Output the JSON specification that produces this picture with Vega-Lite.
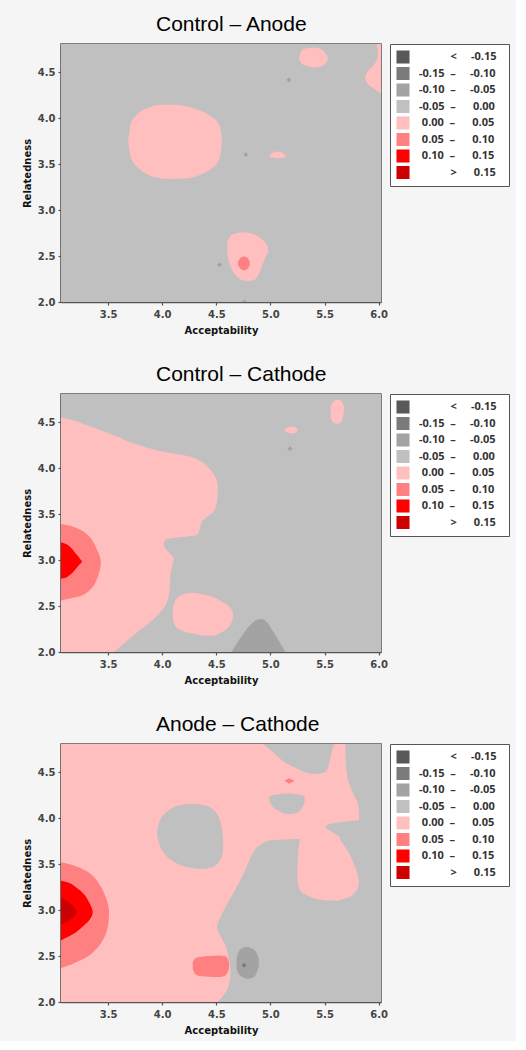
{
  "$schema": "https://vega.github.io/schema/vega-lite/v6.json",
  "background": "#f5f5f5",
  "padding": {"left": 21, "top": 12, "right": 5, "bottom": 5},
  "config": {
    "view": {"stroke": "#555555", "strokeWidth": 1.5},
    "axis": {"labelFont": "DejaVu Sans", "labelFontSize": 10, "labelFontWeight": "bold", "labelColor": "#444444", "titleFont": "DejaVu Sans", "titleFontSize": 10, "titleFontWeight": "bold", "titleColor": "#111111", "domainColor": "#555555", "domainWidth": 1.5, "tickColor": "#555555", "tickSize": 3, "tickWidth": 1.2, "grid": false, "labelPadding": 3, "titlePadding": 5},
    "axisX": {"labelPadding": 4, "titlePadding": 6},
    "title": {"font": "Liberation Sans", "fontSize": 21, "fontWeight": "normal", "color": "#000000", "anchor": "start", "frame": "group", "dx": 95, "offset": 9},
    "legend": {"orient": "right", "offset": 9, "strokeColor": "#555555", "fillColor": "#ffffff", "padding": 6, "symbolType": "square", "symbolSize": 170, "symbolStrokeWidth": 0, "labelFont": "Open Sans", "labelFontSize": 11, "labelFontWeight": "bold", "labelColor": "#333333", "rowPadding": 2.5, "labelOffset": 9, "labelLimit": 300}
  },
  "data": {"values": [
    {"p":1,"o":"r","k":"d","x":3,"x2":6.1,"y":1.9,"y2":4.9},
    {"p":1,"o":"v","z":1,"id":"1A","k":"e","x":3.686,"lo":3.757,"hi":3.757},
    {"p":1,"o":"v","z":1,"id":"1A","k":"e","x":3.710,"lo":3.576,"hi":3.938},
    {"p":1,"o":"v","z":1,"id":"1A","k":"e","x":3.772,"lo":3.467,"hi":4.047},
    {"p":1,"o":"v","z":1,"id":"1A","k":"e","x":3.865,"lo":3.388,"hi":4.112},
    {"p":1,"o":"v","z":1,"id":"1A","k":"e","x":3.989,"lo":3.348,"hi":4.149},
    {"p":1,"o":"v","z":1,"id":"1A","k":"e","x":4.113,"lo":3.341,"hi":4.149},
    {"p":1,"o":"v","z":1,"id":"1A","k":"e","x":4.236,"lo":3.348,"hi":4.127},
    {"p":1,"o":"v","z":1,"id":"1A","k":"e","x":4.360,"lo":3.390,"hi":4.080},
    {"p":1,"o":"v","z":1,"id":"1A","k":"e","x":4.453,"lo":3.450,"hi":4.020},
    {"p":1,"o":"v","z":1,"id":"1A","k":"e","x":4.515,"lo":3.530,"hi":3.950},
    {"p":1,"o":"v","z":1,"id":"1A","k":"e","x":4.540,"lo":3.620,"hi":3.880},
    {"p":1,"o":"v","z":1,"id":"1A","k":"e","x":4.550,"lo":3.720,"hi":3.800},
    {"p":1,"o":"v","z":1,"id":"1B","k":"e","x":5.267,"lo":4.645,"hi":4.663},
    {"p":1,"o":"v","z":1,"id":"1B","k":"e","x":5.288,"lo":4.598,"hi":4.736},
    {"p":1,"o":"v","z":1,"id":"1B","k":"e","x":5.335,"lo":4.572,"hi":4.764},
    {"p":1,"o":"v","z":1,"id":"1B","k":"e","x":5.397,"lo":4.554,"hi":4.772},
    {"p":1,"o":"v","z":1,"id":"1B","k":"e","x":5.459,"lo":4.562,"hi":4.761},
    {"p":1,"o":"v","z":1,"id":"1B","k":"e","x":5.505,"lo":4.591,"hi":4.717},
    {"p":1,"o":"v","z":1,"id":"1B","k":"e","x":5.530,"lo":4.634,"hi":4.670},
    {"p":1,"o":"v","z":1,"id":"1C","k":"e","x":4.994,"lo":3.583,"hi":3.601},
    {"p":1,"o":"v","z":1,"id":"1C","k":"e","x":5.025,"lo":3.569,"hi":3.627},
    {"p":1,"o":"v","z":1,"id":"1C","k":"e","x":5.072,"lo":3.565,"hi":3.638},
    {"p":1,"o":"v","z":1,"id":"1C","k":"e","x":5.118,"lo":3.572,"hi":3.620},
    {"p":1,"o":"v","z":1,"id":"1C","k":"e","x":5.140,"lo":3.576,"hi":3.594},
    {"p":1,"o":"v","z":1,"id":"1D","k":"e","x":4.601,"lo":2.525,"hi":2.652},
    {"p":1,"o":"v","z":1,"id":"1D","k":"e","x":4.623,"lo":2.417,"hi":2.707},
    {"p":1,"o":"v","z":1,"id":"1D","k":"e","x":4.670,"lo":2.308,"hi":2.743},
    {"p":1,"o":"v","z":1,"id":"1D","k":"e","x":4.731,"lo":2.243,"hi":2.757},
    {"p":1,"o":"v","z":1,"id":"1D","k":"e","x":4.793,"lo":2.228,"hi":2.754},
    {"p":1,"o":"v","z":1,"id":"1D","k":"e","x":4.855,"lo":2.243,"hi":2.736},
    {"p":1,"o":"v","z":1,"id":"1D","k":"e","x":4.902,"lo":2.326,"hi":2.699},
    {"p":1,"o":"v","z":1,"id":"1D","k":"e","x":4.948,"lo":2.471,"hi":2.652},
    {"p":1,"o":"v","z":1,"id":"1D","k":"e","x":4.979,"lo":2.543,"hi":2.598},
    {"p":1,"o":"h","z":1,"id":"1E","k":"e","y":4.272,"lo":6.02,"hi":6.1},
    {"p":1,"o":"h","z":1,"id":"1E","k":"e","y":4.301,"lo":5.985,"hi":6.1},
    {"p":1,"o":"h","z":1,"id":"1E","k":"e","y":4.373,"lo":5.901,"hi":6.1},
    {"p":1,"o":"h","z":1,"id":"1E","k":"e","y":4.446,"lo":5.876,"hi":6.1},
    {"p":1,"o":"h","z":1,"id":"1E","k":"e","y":4.518,"lo":5.907,"hi":6.1},
    {"p":1,"o":"h","z":1,"id":"1E","k":"e","y":4.591,"lo":5.963,"hi":6.1},
    {"p":1,"o":"h","z":1,"id":"1E","k":"e","y":4.699,"lo":5.994,"hi":6.1},
    {"p":1,"o":"h","z":1,"id":"1E","k":"e","y":4.808,"lo":5.985,"hi":6.1},
    {"p":1,"o":"h","z":1,"id":"1E","k":"e","y":4.85,"lo":5.985,"hi":6.1},
    {"p":1,"o":"v","z":2,"id":"1F","k":"f","x":4.700,"lo":2.399,"hi":2.435},
    {"p":1,"o":"v","z":2,"id":"1F","k":"f","x":4.725,"lo":2.362,"hi":2.482},
    {"p":1,"o":"v","z":2,"id":"1F","k":"f","x":4.756,"lo":2.344,"hi":2.496},
    {"p":1,"o":"v","z":2,"id":"1F","k":"f","x":4.787,"lo":2.362,"hi":2.482},
    {"p":1,"o":"v","z":2,"id":"1F","k":"f","x":4.809,"lo":2.391,"hi":2.442},
    {"p":1,"o":"v","z":2,"id":"1G","k":"c","x":4.755,"lo":3.605,"hi":3.605},
    {"p":1,"o":"v","z":2,"id":"1G","k":"c","x":4.766,"lo":3.585,"hi":3.628},
    {"p":1,"o":"v","z":2,"id":"1G","k":"c","x":4.778,"lo":3.585,"hi":3.628},
    {"p":1,"o":"v","z":2,"id":"1G","k":"c","x":4.790,"lo":3.605,"hi":3.605},
    {"p":1,"o":"pt","k":"c","x":5.171,"y":4.42},
    {"p":1,"o":"pt","k":"c","x":4.53,"y":2.406},
    {"p":1,"o":"pt","k":"c","x":4.76,"y":2.0},

    {"p":2,"o":"r","k":"d","x":3,"x2":6.1,"y":1.9,"y2":4.9},
    {"p":2,"o":"h","z":1,"id":"2A","k":"e","y":1.95,"lo":3.0,"hi":3.505},
    {"p":2,"o":"h","z":1,"id":"2A","k":"e","y":2.0,"lo":3.0,"hi":3.555},
    {"p":2,"o":"h","z":1,"id":"2A","k":"e","y":2.036,"lo":3.0,"hi":3.591},
    {"p":2,"o":"h","z":1,"id":"2A","k":"e","y":2.217,"lo":3.0,"hi":3.773},
    {"p":2,"o":"h","z":1,"id":"2A","k":"e","y":2.362,"lo":3.0,"hi":3.924},
    {"p":2,"o":"h","z":1,"id":"2A","k":"e","y":2.543,"lo":3.0,"hi":4.045},
    {"p":2,"o":"h","z":1,"id":"2A","k":"e","y":2.688,"lo":3.0,"hi":4.070},
    {"p":2,"o":"h","z":1,"id":"2A","k":"e","y":2.833,"lo":3.0,"hi":4.076},
    {"p":2,"o":"h","z":1,"id":"2A","k":"e","y":2.942,"lo":3.0,"hi":4.091},
    {"p":2,"o":"h","z":1,"id":"2A","k":"e","y":3.014,"lo":3.0,"hi":4.106},
    {"p":2,"o":"h","z":1,"id":"2A","k":"e","y":3.087,"lo":3.0,"hi":4.061},
    {"p":2,"o":"h","z":1,"id":"2A","k":"e","y":3.159,"lo":3.0,"hi":4.015},
    {"p":2,"o":"h","z":1,"id":"2A","k":"e","y":3.225,"lo":3.0,"hi":4.030},
    {"p":2,"o":"h","z":1,"id":"2A","k":"e","y":3.246,"lo":3.0,"hi":4.136},
    {"p":2,"o":"h","z":1,"id":"2A","k":"e","y":3.275,"lo":3.0,"hi":4.318},
    {"p":2,"o":"h","z":1,"id":"2A","k":"e","y":3.341,"lo":3.0,"hi":4.348},
    {"p":2,"o":"h","z":1,"id":"2A","k":"e","y":3.413,"lo":3.0,"hi":4.364},
    {"p":2,"o":"h","z":1,"id":"2A","k":"e","y":3.467,"lo":3.0,"hi":4.409},
    {"p":2,"o":"h","z":1,"id":"2A","k":"e","y":3.522,"lo":3.0,"hi":4.470},
    {"p":2,"o":"h","z":1,"id":"2A","k":"e","y":3.630,"lo":3.0,"hi":4.506},
    {"p":2,"o":"h","z":1,"id":"2A","k":"e","y":3.775,"lo":3.0,"hi":4.515},
    {"p":2,"o":"h","z":1,"id":"2A","k":"e","y":3.884,"lo":3.0,"hi":4.500},
    {"p":2,"o":"h","z":1,"id":"2A","k":"e","y":3.993,"lo":3.0,"hi":4.439},
    {"p":2,"o":"h","z":1,"id":"2A","k":"e","y":4.083,"lo":3.0,"hi":4.348},
    {"p":2,"o":"h","z":1,"id":"2A","k":"e","y":4.138,"lo":3.0,"hi":4.227},
    {"p":2,"o":"h","z":1,"id":"2A","k":"e","y":4.174,"lo":3.0,"hi":4.045},
    {"p":2,"o":"h","z":1,"id":"2A","k":"e","y":4.246,"lo":3.0,"hi":3.803},
    {"p":2,"o":"h","z":1,"id":"2A","k":"e","y":4.355,"lo":3.0,"hi":3.561},
    {"p":2,"o":"h","z":1,"id":"2A","k":"e","y":4.464,"lo":3.0,"hi":3.318},
    {"p":2,"o":"h","z":1,"id":"2A","k":"e","y":4.536,"lo":3.0,"hi":3.136},
    {"p":2,"o":"h","z":1,"id":"2A","k":"e","y":4.554,"lo":3.0,"hi":3.06},
    {"p":2,"o":"v","z":1,"id":"2B","k":"e","x":4.099,"lo":2.359,"hi":2.467},
    {"p":2,"o":"v","z":1,"id":"2B","k":"e","x":4.120,"lo":2.286,"hi":2.558},
    {"p":2,"o":"v","z":1,"id":"2B","k":"e","x":4.182,"lo":2.232,"hi":2.620},
    {"p":2,"o":"v","z":1,"id":"2B","k":"e","x":4.273,"lo":2.203,"hi":2.645},
    {"p":2,"o":"v","z":1,"id":"2B","k":"e","x":4.380,"lo":2.178,"hi":2.627},
    {"p":2,"o":"v","z":1,"id":"2B","k":"e","x":4.472,"lo":2.178,"hi":2.598},
    {"p":2,"o":"v","z":1,"id":"2B","k":"e","x":4.548,"lo":2.214,"hi":2.551},
    {"p":2,"o":"v","z":1,"id":"2B","k":"e","x":4.609,"lo":2.268,"hi":2.504},
    {"p":2,"o":"v","z":1,"id":"2B","k":"e","x":4.646,"lo":2.341,"hi":2.449},
    {"p":2,"o":"v","z":1,"id":"2B","k":"e","x":4.655,"lo":2.377,"hi":2.413},
    {"p":2,"o":"v","z":1,"id":"2C","k":"e","x":5.557,"lo":4.551,"hi":4.678},
    {"p":2,"o":"v","z":1,"id":"2C","k":"e","x":5.587,"lo":4.496,"hi":4.732},
    {"p":2,"o":"v","z":1,"id":"2C","k":"e","x":5.618,"lo":4.486,"hi":4.750},
    {"p":2,"o":"v","z":1,"id":"2C","k":"e","x":5.658,"lo":4.514,"hi":4.732},
    {"p":2,"o":"v","z":1,"id":"2C","k":"e","x":5.679,"lo":4.609,"hi":4.678},
    {"p":2,"o":"v","z":1,"id":"2D","k":"e","x":5.129,"lo":4.406,"hi":4.424},
    {"p":2,"o":"v","z":1,"id":"2D","k":"e","x":5.160,"lo":4.388,"hi":4.449},
    {"p":2,"o":"v","z":1,"id":"2D","k":"e","x":5.199,"lo":4.380,"hi":4.457},
    {"p":2,"o":"v","z":1,"id":"2D","k":"e","x":5.236,"lo":4.391,"hi":4.442},
    {"p":2,"o":"v","z":1,"id":"2D","k":"e","x":5.251,"lo":4.409,"hi":4.424},
    {"p":2,"o":"v","z":1,"id":"2E","k":"c","x":4.640,"lo":1.9,"hi":2.0},
    {"p":2,"o":"v","z":1,"id":"2E","k":"c","x":4.716,"lo":1.9,"hi":2.141},
    {"p":2,"o":"v","z":1,"id":"2E","k":"c","x":4.808,"lo":1.9,"hi":2.286},
    {"p":2,"o":"v","z":1,"id":"2E","k":"c","x":4.869,"lo":1.9,"hi":2.348},
    {"p":2,"o":"v","z":1,"id":"2E","k":"c","x":4.915,"lo":1.9,"hi":2.359},
    {"p":2,"o":"v","z":1,"id":"2E","k":"c","x":4.961,"lo":1.9,"hi":2.333},
    {"p":2,"o":"v","z":1,"id":"2E","k":"c","x":5.022,"lo":1.9,"hi":2.232},
    {"p":2,"o":"v","z":1,"id":"2E","k":"c","x":5.083,"lo":1.9,"hi":2.112},
    {"p":2,"o":"v","z":1,"id":"2E","k":"c","x":5.138,"lo":1.9,"hi":2.0},
    {"p":2,"o":"h","z":2,"id":"2F","k":"f","y":2.562,"lo":3.0,"hi":3.064},
    {"p":2,"o":"h","z":2,"id":"2F","k":"f","y":2.572,"lo":3.0,"hi":3.106},
    {"p":2,"o":"h","z":2,"id":"2F","k":"f","y":2.598,"lo":3.0,"hi":3.212},
    {"p":2,"o":"h","z":2,"id":"2F","k":"f","y":2.634,"lo":3.0,"hi":3.288},
    {"p":2,"o":"h","z":2,"id":"2F","k":"f","y":2.688,"lo":3.0,"hi":3.342},
    {"p":2,"o":"h","z":2,"id":"2F","k":"f","y":2.761,"lo":3.0,"hi":3.385},
    {"p":2,"o":"h","z":2,"id":"2F","k":"f","y":2.833,"lo":3.0,"hi":3.409},
    {"p":2,"o":"h","z":2,"id":"2F","k":"f","y":2.906,"lo":3.0,"hi":3.427},
    {"p":2,"o":"h","z":2,"id":"2F","k":"f","y":2.978,"lo":3.0,"hi":3.433},
    {"p":2,"o":"h","z":2,"id":"2F","k":"f","y":3.051,"lo":3.0,"hi":3.421},
    {"p":2,"o":"h","z":2,"id":"2F","k":"f","y":3.123,"lo":3.0,"hi":3.394},
    {"p":2,"o":"h","z":2,"id":"2F","k":"f","y":3.196,"lo":3.0,"hi":3.364},
    {"p":2,"o":"h","z":2,"id":"2F","k":"f","y":3.268,"lo":3.0,"hi":3.318},
    {"p":2,"o":"h","z":2,"id":"2F","k":"f","y":3.341,"lo":3.0,"hi":3.227},
    {"p":2,"o":"h","z":2,"id":"2F","k":"f","y":3.377,"lo":3.0,"hi":3.136},
    {"p":2,"o":"h","z":2,"id":"2F","k":"f","y":3.395,"lo":3.0,"hi":3.064},
    {"p":2,"o":"h","z":3,"id":"2G","k":"g","y":2.797,"lo":3.0,"hi":3.064},
    {"p":2,"o":"h","z":3,"id":"2G","k":"g","y":2.805,"lo":3.0,"hi":3.100},
    {"p":2,"o":"h","z":3,"id":"2G","k":"g","y":2.833,"lo":3.0,"hi":3.140},
    {"p":2,"o":"h","z":3,"id":"2G","k":"g","y":2.888,"lo":3.0,"hi":3.190},
    {"p":2,"o":"h","z":3,"id":"2G","k":"g","y":2.942,"lo":3.0,"hi":3.227},
    {"p":2,"o":"h","z":3,"id":"2G","k":"g","y":2.986,"lo":3.0,"hi":3.258},
    {"p":2,"o":"h","z":3,"id":"2G","k":"g","y":3.014,"lo":3.0,"hi":3.242},
    {"p":2,"o":"h","z":3,"id":"2G","k":"g","y":3.069,"lo":3.0,"hi":3.203},
    {"p":2,"o":"h","z":3,"id":"2G","k":"g","y":3.141,"lo":3.0,"hi":3.152},
    {"p":2,"o":"h","z":3,"id":"2G","k":"g","y":3.178,"lo":3.0,"hi":3.106},
    {"p":2,"o":"h","z":3,"id":"2G","k":"g","y":3.196,"lo":3.0,"hi":3.064},
    {"p":2,"o":"pt","k":"c","x":5.181,"y":4.214},

    {"p":3,"o":"r","k":"e","x":3,"x2":6.1,"y":1.9,"y2":4.9},
    {"p":3,"o":"h","z":1,"id":"3A","k":"d","y":1.95,"lo":4.50,"hi":6.1},
    {"p":3,"o":"h","z":1,"id":"3A","k":"d","y":2.0,"lo":4.515,"hi":6.1},
    {"p":3,"o":"h","z":1,"id":"3A","k":"d","y":2.072,"lo":4.566,"hi":6.1},
    {"p":3,"o":"h","z":1,"id":"3A","k":"d","y":2.181,"lo":4.615,"hi":6.1},
    {"p":3,"o":"h","z":1,"id":"3A","k":"d","y":2.326,"lo":4.630,"hi":6.1},
    {"p":3,"o":"h","z":1,"id":"3A","k":"d","y":2.471,"lo":4.615,"hi":6.1},
    {"p":3,"o":"h","z":1,"id":"3A","k":"d","y":2.616,"lo":4.585,"hi":6.1},
    {"p":3,"o":"h","z":1,"id":"3A","k":"d","y":2.725,"lo":4.536,"hi":6.1},
    {"p":3,"o":"h","z":1,"id":"3A","k":"d","y":2.815,"lo":4.506,"hi":6.1},
    {"p":3,"o":"h","z":1,"id":"3A","k":"d","y":2.906,"lo":4.530,"hi":6.1},
    {"p":3,"o":"h","z":1,"id":"3A","k":"d","y":3.014,"lo":4.576,"hi":6.1},
    {"p":3,"o":"h","z":1,"id":"3A","k":"d","y":3.159,"lo":4.645,"hi":6.1},
    {"p":3,"o":"h","z":1,"id":"3A","k":"d","y":3.304,"lo":4.711,"hi":6.1},
    {"p":3,"o":"h","z":1,"id":"3A","k":"d","y":3.449,"lo":4.772,"hi":6.1},
    {"p":3,"o":"h","z":1,"id":"3A","k":"d","y":3.594,"lo":4.826,"hi":6.1},
    {"p":3,"o":"h","z":1,"id":"3A","k":"d","y":3.667,"lo":4.863,"hi":6.1},
    {"p":3,"o":"h","z":1,"id":"3A","k":"d","y":3.721,"lo":4.917,"hi":6.1},
    {"p":3,"o":"h","z":1,"id":"3A","k":"d","y":3.757,"lo":4.983,"hi":6.1},
    {"p":3,"o":"h","z":1,"id":"3A","k":"d","y":3.775,"lo":5.27,"hi":6.1},
    {"p":3,"o":"h","z":1,"id":"3A","k":"d","y":3.783,"lo":5.648,"hi":6.1},
    {"p":3,"o":"h","z":1,"id":"3A","k":"d","y":3.848,"lo":5.573,"hi":6.1},
    {"p":3,"o":"h","z":1,"id":"3A","k":"d","y":3.902,"lo":5.512,"hi":6.1},
    {"p":3,"o":"h","z":1,"id":"3A","k":"d","y":3.938,"lo":5.542,"hi":6.1},
    {"p":3,"o":"h","z":1,"id":"3A","k":"d","y":3.964,"lo":5.678,"hi":6.1},
    {"p":3,"o":"h","z":1,"id":"3A","k":"d","y":3.986,"lo":5.820,"hi":6.1},
    {"p":3,"o":"h","z":1,"id":"3A","k":"d","y":4.138,"lo":5.814,"hi":6.1},
    {"p":3,"o":"h","z":1,"id":"3A","k":"d","y":4.246,"lo":5.775,"hi":6.1},
    {"p":3,"o":"h","z":1,"id":"3A","k":"d","y":4.391,"lo":5.724,"hi":6.1},
    {"p":3,"o":"h","z":1,"id":"3A","k":"d","y":4.572,"lo":5.699,"hi":6.1},
    {"p":3,"o":"h","z":1,"id":"3A","k":"d","y":4.808,"lo":5.693,"hi":6.1},
    {"p":3,"o":"h","z":1,"id":"3A","k":"d","y":4.85,"lo":5.693,"hi":6.1},
    {"p":3,"o":"h","z":1,"id":"3I","k":"f","y":2.370,"lo":3.0,"hi":3.064},
    {"p":3,"o":"h","z":1,"id":"3I","k":"f","y":2.391,"lo":3.0,"hi":3.121},
    {"p":3,"o":"h","z":1,"id":"3I","k":"f","y":2.428,"lo":3.0,"hi":3.197},
    {"p":3,"o":"h","z":1,"id":"3I","k":"f","y":2.489,"lo":3.0,"hi":3.303},
    {"p":3,"o":"h","z":1,"id":"3I","k":"f","y":2.580,"lo":3.0,"hi":3.394},
    {"p":3,"o":"h","z":1,"id":"3I","k":"f","y":2.688,"lo":3.0,"hi":3.458},
    {"p":3,"o":"h","z":1,"id":"3I","k":"f","y":2.833,"lo":3.0,"hi":3.500},
    {"p":3,"o":"h","z":1,"id":"3I","k":"f","y":2.978,"lo":3.0,"hi":3.509},
    {"p":3,"o":"h","z":1,"id":"3I","k":"f","y":3.123,"lo":3.0,"hi":3.485},
    {"p":3,"o":"h","z":1,"id":"3I","k":"f","y":3.232,"lo":3.0,"hi":3.445},
    {"p":3,"o":"h","z":1,"id":"3I","k":"f","y":3.341,"lo":3.0,"hi":3.385},
    {"p":3,"o":"h","z":1,"id":"3I","k":"f","y":3.413,"lo":3.0,"hi":3.318},
    {"p":3,"o":"h","z":1,"id":"3I","k":"f","y":3.467,"lo":3.0,"hi":3.227},
    {"p":3,"o":"h","z":1,"id":"3I","k":"f","y":3.504,"lo":3.0,"hi":3.136},
    {"p":3,"o":"h","z":1,"id":"3I","k":"f","y":3.522,"lo":3.0,"hi":3.064},
    {"p":3,"o":"v","z":1,"id":"3B","k":"e","x":5.249,"lo":3.341,"hi":3.486},
    {"p":3,"o":"v","z":1,"id":"3B","k":"e","x":5.261,"lo":3.260,"hi":3.667},
    {"p":3,"o":"v","z":1,"id":"3B","k":"e","x":5.285,"lo":3.200,"hi":3.812},
    {"p":3,"o":"v","z":1,"id":"3B","k":"e","x":5.346,"lo":3.160,"hi":3.812},
    {"p":3,"o":"v","z":1,"id":"3B","k":"e","x":5.437,"lo":3.118,"hi":3.812},
    {"p":3,"o":"v","z":1,"id":"3B","k":"e","x":5.527,"lo":3.105,"hi":3.812},
    {"p":3,"o":"v","z":1,"id":"3B","k":"e","x":5.618,"lo":3.105,"hi":3.801},
    {"p":3,"o":"v","z":1,"id":"3B","k":"e","x":5.678,"lo":3.125,"hi":3.710},
    {"p":3,"o":"v","z":1,"id":"3B","k":"e","x":5.739,"lo":3.150,"hi":3.594},
    {"p":3,"o":"v","z":1,"id":"3B","k":"e","x":5.784,"lo":3.195,"hi":3.467},
    {"p":3,"o":"v","z":1,"id":"3B","k":"e","x":5.808,"lo":3.245,"hi":3.377},
    {"p":3,"o":"v","z":1,"id":"3B","k":"e","x":5.817,"lo":3.290,"hi":3.304},
    {"p":3,"o":"v","z":1,"id":"3C","k":"d","x":3.955,"lo":3.804,"hi":3.891},
    {"p":3,"o":"v","z":1,"id":"3C","k":"d","x":3.979,"lo":3.703,"hi":3.975},
    {"p":3,"o":"v","z":1,"id":"3C","k":"d","x":4.030,"lo":3.601,"hi":4.058},
    {"p":3,"o":"v","z":1,"id":"3C","k":"d","x":4.106,"lo":3.529,"hi":4.120},
    {"p":3,"o":"v","z":1,"id":"3C","k":"d","x":4.197,"lo":3.478,"hi":4.152},
    {"p":3,"o":"v","z":1,"id":"3C","k":"d","x":4.288,"lo":3.457,"hi":4.156},
    {"p":3,"o":"v","z":1,"id":"3C","k":"d","x":4.379,"lo":3.449,"hi":4.145},
    {"p":3,"o":"v","z":1,"id":"3C","k":"d","x":4.455,"lo":3.464,"hi":4.109},
    {"p":3,"o":"v","z":1,"id":"3C","k":"d","x":4.506,"lo":3.504,"hi":4.047},
    {"p":3,"o":"v","z":1,"id":"3C","k":"d","x":4.539,"lo":3.558,"hi":3.957},
    {"p":3,"o":"v","z":1,"id":"3C","k":"d","x":4.558,"lo":3.612,"hi":3.830},
    {"p":3,"o":"v","z":1,"id":"3C","k":"d","x":4.564,"lo":3.685,"hi":3.739},
    {"p":3,"o":"v","z":1,"id":"3D","k":"f","x":4.282,"lo":2.362,"hi":2.435},
    {"p":3,"o":"v","z":1,"id":"3D","k":"f","x":4.303,"lo":2.308,"hi":2.471},
    {"p":3,"o":"v","z":1,"id":"3D","k":"f","x":4.348,"lo":2.283,"hi":2.489},
    {"p":3,"o":"v","z":1,"id":"3D","k":"f","x":4.439,"lo":2.275,"hi":2.500},
    {"p":3,"o":"v","z":1,"id":"3D","k":"f","x":4.530,"lo":2.272,"hi":2.507},
    {"p":3,"o":"v","z":1,"id":"3D","k":"f","x":4.576,"lo":2.283,"hi":2.500},
    {"p":3,"o":"v","z":1,"id":"3D","k":"f","x":4.606,"lo":2.326,"hi":2.471},
    {"p":3,"o":"v","z":1,"id":"3D","k":"f","x":4.618,"lo":2.362,"hi":2.428},
    {"p":3,"o":"v","z":1,"id":"3E","k":"d","x":4.938,"lo":4.808,"hi":4.9},
    {"p":3,"o":"v","z":1,"id":"3E","k":"d","x":4.983,"lo":4.761,"hi":4.9},
    {"p":3,"o":"v","z":1,"id":"3E","k":"d","x":5.044,"lo":4.699,"hi":4.9},
    {"p":3,"o":"v","z":1,"id":"3E","k":"d","x":5.134,"lo":4.609,"hi":4.9},
    {"p":3,"o":"v","z":1,"id":"3E","k":"d","x":5.225,"lo":4.554,"hi":4.9},
    {"p":3,"o":"v","z":1,"id":"3E","k":"d","x":5.285,"lo":4.518,"hi":4.9},
    {"p":3,"o":"v","z":1,"id":"3E","k":"d","x":5.406,"lo":4.482,"hi":4.9},
    {"p":3,"o":"v","z":1,"id":"3E","k":"d","x":5.482,"lo":4.493,"hi":4.9},
    {"p":3,"o":"v","z":1,"id":"3E","k":"d","x":5.527,"lo":4.536,"hi":4.9},
    {"p":3,"o":"v","z":1,"id":"3E","k":"d","x":5.551,"lo":4.645,"hi":4.9},
    {"p":3,"o":"v","z":1,"id":"3E","k":"d","x":5.573,"lo":4.754,"hi":4.9},
    {"p":3,"o":"v","z":1,"id":"3E","k":"d","x":5.594,"lo":4.808,"hi":4.9},
    {"p":3,"o":"v","z":1,"id":"3F","k":"d","x":4.989,"lo":4.192,"hi":4.228},
    {"p":3,"o":"v","z":1,"id":"3F","k":"d","x":5.014,"lo":4.138,"hi":4.254},
    {"p":3,"o":"v","z":1,"id":"3F","k":"d","x":5.074,"lo":4.083,"hi":4.264},
    {"p":3,"o":"v","z":1,"id":"3F","k":"d","x":5.165,"lo":4.047,"hi":4.272},
    {"p":3,"o":"v","z":1,"id":"3F","k":"d","x":5.240,"lo":4.058,"hi":4.264},
    {"p":3,"o":"v","z":1,"id":"3F","k":"d","x":5.285,"lo":4.101,"hi":4.254},
    {"p":3,"o":"v","z":1,"id":"3F","k":"d","x":5.316,"lo":4.174,"hi":4.239},
    {"p":3,"o":"v","z":1,"id":"3G","k":"f","x":5.128,"lo":4.409,"hi":4.409},
    {"p":3,"o":"v","z":1,"id":"3G","k":"f","x":5.150,"lo":4.395,"hi":4.424},
    {"p":3,"o":"v","z":1,"id":"3G","k":"f","x":5.171,"lo":4.380,"hi":4.438},
    {"p":3,"o":"v","z":1,"id":"3G","k":"f","x":5.198,"lo":4.394,"hi":4.423},
    {"p":3,"o":"v","z":1,"id":"3G","k":"f","x":5.225,"lo":4.409,"hi":4.409},
    {"p":3,"o":"v","z":1,"id":"3H","k":"c","x":4.687,"lo":2.362,"hi":2.471},
    {"p":3,"o":"v","z":1,"id":"3H","k":"c","x":4.705,"lo":2.308,"hi":2.543},
    {"p":3,"o":"v","z":1,"id":"3H","k":"c","x":4.742,"lo":2.272,"hi":2.587},
    {"p":3,"o":"v","z":1,"id":"3H","k":"c","x":4.787,"lo":2.254,"hi":2.598},
    {"p":3,"o":"v","z":1,"id":"3H","k":"c","x":4.832,"lo":2.261,"hi":2.580},
    {"p":3,"o":"v","z":1,"id":"3H","k":"c","x":4.869,"lo":2.308,"hi":2.543},
    {"p":3,"o":"v","z":1,"id":"3H","k":"c","x":4.893,"lo":2.380,"hi":2.471},
    {"p":3,"o":"h","z":2,"id":"3J","k":"g","y":2.670,"lo":3.0,"hi":3.064},
    {"p":3,"o":"h","z":2,"id":"3J","k":"g","y":2.696,"lo":3.0,"hi":3.106},
    {"p":3,"o":"h","z":2,"id":"3J","k":"g","y":2.743,"lo":3.0,"hi":3.182},
    {"p":3,"o":"h","z":2,"id":"3J","k":"g","y":2.815,"lo":3.0,"hi":3.258},
    {"p":3,"o":"h","z":2,"id":"3J","k":"g","y":2.888,"lo":3.0,"hi":3.324},
    {"p":3,"o":"h","z":2,"id":"3J","k":"g","y":2.978,"lo":3.0,"hi":3.358},
    {"p":3,"o":"h","z":2,"id":"3J","k":"g","y":3.087,"lo":3.0,"hi":3.324},
    {"p":3,"o":"h","z":2,"id":"3J","k":"g","y":3.178,"lo":3.0,"hi":3.273},
    {"p":3,"o":"h","z":2,"id":"3J","k":"g","y":3.250,"lo":3.0,"hi":3.203},
    {"p":3,"o":"h","z":2,"id":"3J","k":"g","y":3.304,"lo":3.0,"hi":3.121},
    {"p":3,"o":"h","z":2,"id":"3J","k":"g","y":3.322,"lo":3.0,"hi":3.064},
    {"p":3,"o":"h","z":3,"id":"3K","k":"h","y":2.841,"lo":3.0,"hi":3.064},
    {"p":3,"o":"h","z":3,"id":"3K","k":"h","y":2.851,"lo":3.0,"hi":3.082},
    {"p":3,"o":"h","z":3,"id":"3K","k":"h","y":2.888,"lo":3.0,"hi":3.136},
    {"p":3,"o":"h","z":3,"id":"3K","k":"h","y":2.935,"lo":3.0,"hi":3.188},
    {"p":3,"o":"h","z":3,"id":"3K","k":"h","y":2.978,"lo":3.0,"hi":3.212},
    {"p":3,"o":"h","z":3,"id":"3K","k":"h","y":3.014,"lo":3.0,"hi":3.197},
    {"p":3,"o":"h","z":3,"id":"3K","k":"h","y":3.069,"lo":3.0,"hi":3.152},
    {"p":3,"o":"h","z":3,"id":"3K","k":"h","y":3.112,"lo":3.0,"hi":3.106},
    {"p":3,"o":"h","z":3,"id":"3K","k":"h","y":3.130,"lo":3.0,"hi":3.064},
    {"p":3,"o":"pt","k":"b","x":4.757,"y":2.399}
  ]},
  "resolve": {"scale": {"color": "independent"}, "legend": {"color": "independent"}},
  "spacing": 26,
  "vconcat": [
    {
      "title": "Control \u2013 Anode",
      "width": 320, "height": 258,
      "transform": [{"filter": "datum.p == 1"}],
      "layer": [
        {"transform": [{"filter": "datum.o == 'r'"}], "mark": {"type": "rect", "clip": true, "opacity": 1},
         "encoding": {"x": {"field": "x", "type": "quantitative", "title": "Acceptability", "scale": {"domain": [3.065, 6.022], "nice": false, "zero": false}, "axis": {"values": [3.5, 4, 4.5, 5, 5.5, 6], "format": ".1f"}}, "x2": {"field": "x2"},
          "y": {"field": "y", "type": "quantitative", "title": "Relatedness", "scale": {"domain": [2, 4.81], "nice": false, "zero": false}, "axis": {"values": [2, 2.5, 3, 3.5, 4, 4.5], "format": ".1f"}}, "y2": {"field": "y2"},
          "color": {"field": "k", "type": "nominal", "scale": {"domain": ["a","b","c","d","e","f","g","h"], "range": ["#595959","#7b7b7b","#a3a3a3","#c0c0c0","#ffbfbf","#ff8080","#ff0000","#cc0000"]}, "legend": {"title": null, "symbolType": "square", "labelExpr": "datum.value=='a'?'\u200b\u00a0\u00a0\u00a0\u00a0\u00a0\u00a0\u00a0\u00a0\u00a0\u00a0\u00a0<\u00a0\u00a0\u00a0\u00a0\u00a0-0.15\u00a0\u00a0\u200b':datum.value=='b'?'\u200b-0.15\u00a0\u00a0\u2013\u00a0\u00a0\u00a0\u00a0\u00a0-0.10\u00a0\u00a0\u200b':datum.value=='c'?'\u200b-0.10\u00a0\u00a0\u2013\u00a0\u00a0\u00a0\u00a0\u00a0-0.05\u00a0\u00a0\u200b':datum.value=='d'?'\u200b-0.05\u00a0\u00a0\u2013\u00a0\u00a0\u00a0\u00a0\u00a0\u00a00.00\u00a0\u00a0\u200b':datum.value=='e'?'\u200b\u00a00.00\u00a0\u00a0\u2013\u00a0\u00a0\u00a0\u00a0\u00a0\u00a00.05\u00a0\u00a0\u200b':datum.value=='f'?'\u200b\u00a00.05\u00a0\u00a0\u2013\u00a0\u00a0\u00a0\u00a0\u00a0\u00a00.10\u00a0\u00a0\u200b':datum.value=='g'?'\u200b\u00a00.10\u00a0\u00a0\u2013\u00a0\u00a0\u00a0\u00a0\u00a0\u00a00.15\u00a0\u00a0\u200b':'\u200b\u00a0\u00a0\u00a0\u00a0\u00a0\u00a0\u00a0\u00a0\u00a0\u00a0\u00a0>\u00a0\u00a0\u00a0\u00a0\u00a0\u00a00.15\u00a0\u00a0\u200b'"}}}},
        {"transform": [{"filter": "datum.o == 'h' && datum.z == 1"}], "mark": {"type": "area", "orient": "horizontal", "interpolate": "monotone", "clip": true, "opacity": 1},
         "encoding": {"y": {"field": "y", "type": "quantitative", "title": "Relatedness", "scale": {"domain": [2, 4.81], "nice": false, "zero": false}, "axis": {"values": [2, 2.5, 3, 3.5, 4, 4.5], "format": ".1f"}}, "x": {"field": "lo", "type": "quantitative", "stack": null, "title": "Acceptability", "scale": {"domain": [3.065, 6.022], "nice": false, "zero": false}, "axis": {"values": [3.5, 4, 4.5, 5, 5.5, 6], "format": ".1f"}}, "x2": {"field": "hi"}, "detail": {"field": "id"},
          "color": {"field": "k", "type": "nominal", "scale": {"domain": ["a","b","c","d","e","f","g","h"], "range": ["#595959","#7b7b7b","#a3a3a3","#c0c0c0","#ffbfbf","#ff8080","#ff0000","#cc0000"]}}}},
        {"transform": [{"filter": "datum.o == 'v' && datum.z == 1"}], "mark": {"type": "area", "orient": "vertical", "interpolate": "monotone", "clip": true, "opacity": 1},
         "encoding": {"x": {"field": "x", "type": "quantitative", "title": "Acceptability", "scale": {"domain": [3.065, 6.022], "nice": false, "zero": false}, "axis": {"values": [3.5, 4, 4.5, 5, 5.5, 6], "format": ".1f"}}, "y": {"field": "lo", "type": "quantitative", "stack": null, "title": "Relatedness", "scale": {"domain": [2, 4.81], "nice": false, "zero": false}, "axis": {"values": [2, 2.5, 3, 3.5, 4, 4.5], "format": ".1f"}}, "y2": {"field": "hi"}, "detail": {"field": "id"},
          "color": {"field": "k", "type": "nominal", "scale": {"domain": ["a","b","c","d","e","f","g","h"], "range": ["#595959","#7b7b7b","#a3a3a3","#c0c0c0","#ffbfbf","#ff8080","#ff0000","#cc0000"]}}}},
        {"transform": [{"filter": "datum.o == 'h' && datum.z == 2"}], "mark": {"type": "area", "orient": "horizontal", "interpolate": "monotone", "clip": true, "opacity": 1},
         "encoding": {"y": {"field": "y", "type": "quantitative", "title": "Relatedness", "scale": {"domain": [2, 4.81], "nice": false, "zero": false}, "axis": {"values": [2, 2.5, 3, 3.5, 4, 4.5], "format": ".1f"}}, "x": {"field": "lo", "type": "quantitative", "stack": null, "title": "Acceptability", "scale": {"domain": [3.065, 6.022], "nice": false, "zero": false}, "axis": {"values": [3.5, 4, 4.5, 5, 5.5, 6], "format": ".1f"}}, "x2": {"field": "hi"}, "detail": {"field": "id"},
          "color": {"field": "k", "type": "nominal", "scale": {"domain": ["a","b","c","d","e","f","g","h"], "range": ["#595959","#7b7b7b","#a3a3a3","#c0c0c0","#ffbfbf","#ff8080","#ff0000","#cc0000"]}}}},
        {"transform": [{"filter": "datum.o == 'v' && datum.z == 2"}], "mark": {"type": "area", "orient": "vertical", "interpolate": "monotone", "clip": true, "opacity": 1},
         "encoding": {"x": {"field": "x", "type": "quantitative", "title": "Acceptability", "scale": {"domain": [3.065, 6.022], "nice": false, "zero": false}, "axis": {"values": [3.5, 4, 4.5, 5, 5.5, 6], "format": ".1f"}}, "y": {"field": "lo", "type": "quantitative", "stack": null, "title": "Relatedness", "scale": {"domain": [2, 4.81], "nice": false, "zero": false}, "axis": {"values": [2, 2.5, 3, 3.5, 4, 4.5], "format": ".1f"}}, "y2": {"field": "hi"}, "detail": {"field": "id"},
          "color": {"field": "k", "type": "nominal", "scale": {"domain": ["a","b","c","d","e","f","g","h"], "range": ["#595959","#7b7b7b","#a3a3a3","#c0c0c0","#ffbfbf","#ff8080","#ff0000","#cc0000"]}}}},
        {"transform": [{"filter": "datum.o == 'h' && datum.z == 3"}], "mark": {"type": "area", "orient": "horizontal", "interpolate": "monotone", "clip": true, "opacity": 1},
         "encoding": {"y": {"field": "y", "type": "quantitative", "title": "Relatedness", "scale": {"domain": [2, 4.81], "nice": false, "zero": false}, "axis": {"values": [2, 2.5, 3, 3.5, 4, 4.5], "format": ".1f"}}, "x": {"field": "lo", "type": "quantitative", "stack": null, "title": "Acceptability", "scale": {"domain": [3.065, 6.022], "nice": false, "zero": false}, "axis": {"values": [3.5, 4, 4.5, 5, 5.5, 6], "format": ".1f"}}, "x2": {"field": "hi"}, "detail": {"field": "id"},
          "color": {"field": "k", "type": "nominal", "scale": {"domain": ["a","b","c","d","e","f","g","h"], "range": ["#595959","#7b7b7b","#a3a3a3","#c0c0c0","#ffbfbf","#ff8080","#ff0000","#cc0000"]}}}},
        {"transform": [{"filter": "datum.o == 'pt'"}], "mark": {"type": "point", "filled": true, "shape": "diamond", "size": 25, "opacity": 1, "clip": true},
         "encoding": {"x": {"field": "x", "type": "quantitative", "title": "Acceptability", "scale": {"domain": [3.065, 6.022], "nice": false, "zero": false}, "axis": {"values": [3.5, 4, 4.5, 5, 5.5, 6], "format": ".1f"}}, "y": {"field": "y", "type": "quantitative", "title": "Relatedness", "scale": {"domain": [2, 4.81], "nice": false, "zero": false}, "axis": {"values": [2, 2.5, 3, 3.5, 4, 4.5], "format": ".1f"}},
          "color": {"field": "k", "type": "nominal", "scale": {"domain": ["a","b","c","d","e","f","g","h"], "range": ["#595959","#7b7b7b","#a3a3a3","#c0c0c0","#ffbfbf","#ff8080","#ff0000","#cc0000"]}}}}
      ]
    },
    {
      "title": "Control \u2013 Cathode",
      "width": 320, "height": 258,
      "transform": [{"filter": "datum.p == 2"}],
      "layer": [
        {"transform": [{"filter": "datum.o == 'r'"}], "mark": {"type": "rect", "clip": true, "opacity": 1},
         "encoding": {"x": {"field": "x", "type": "quantitative", "title": "Acceptability", "scale": {"domain": [3.065, 6.022], "nice": false, "zero": false}, "axis": {"values": [3.5, 4, 4.5, 5, 5.5, 6], "format": ".1f"}}, "x2": {"field": "x2"},
          "y": {"field": "y", "type": "quantitative", "title": "Relatedness", "scale": {"domain": [2, 4.81], "nice": false, "zero": false}, "axis": {"values": [2, 2.5, 3, 3.5, 4, 4.5], "format": ".1f"}}, "y2": {"field": "y2"},
          "color": {"field": "k", "type": "nominal", "scale": {"domain": ["a","b","c","d","e","f","g","h"], "range": ["#595959","#7b7b7b","#a3a3a3","#c0c0c0","#ffbfbf","#ff8080","#ff0000","#cc0000"]}, "legend": {"title": null, "symbolType": "square", "labelExpr": "datum.value=='a'?'\u200b\u00a0\u00a0\u00a0\u00a0\u00a0\u00a0\u00a0\u00a0\u00a0\u00a0\u00a0<\u00a0\u00a0\u00a0\u00a0\u00a0-0.15\u00a0\u00a0\u200b':datum.value=='b'?'\u200b-0.15\u00a0\u00a0\u2013\u00a0\u00a0\u00a0\u00a0\u00a0-0.10\u00a0\u00a0\u200b':datum.value=='c'?'\u200b-0.10\u00a0\u00a0\u2013\u00a0\u00a0\u00a0\u00a0\u00a0-0.05\u00a0\u00a0\u200b':datum.value=='d'?'\u200b-0.05\u00a0\u00a0\u2013\u00a0\u00a0\u00a0\u00a0\u00a0\u00a00.00\u00a0\u00a0\u200b':datum.value=='e'?'\u200b\u00a00.00\u00a0\u00a0\u2013\u00a0\u00a0\u00a0\u00a0\u00a0\u00a00.05\u00a0\u00a0\u200b':datum.value=='f'?'\u200b\u00a00.05\u00a0\u00a0\u2013\u00a0\u00a0\u00a0\u00a0\u00a0\u00a00.10\u00a0\u00a0\u200b':datum.value=='g'?'\u200b\u00a00.10\u00a0\u00a0\u2013\u00a0\u00a0\u00a0\u00a0\u00a0\u00a00.15\u00a0\u00a0\u200b':'\u200b\u00a0\u00a0\u00a0\u00a0\u00a0\u00a0\u00a0\u00a0\u00a0\u00a0\u00a0>\u00a0\u00a0\u00a0\u00a0\u00a0\u00a00.15\u00a0\u00a0\u200b'"}}}},
        {"transform": [{"filter": "datum.o == 'h' && datum.z == 1"}], "mark": {"type": "area", "orient": "horizontal", "interpolate": "monotone", "clip": true, "opacity": 1},
         "encoding": {"y": {"field": "y", "type": "quantitative", "title": "Relatedness", "scale": {"domain": [2, 4.81], "nice": false, "zero": false}, "axis": {"values": [2, 2.5, 3, 3.5, 4, 4.5], "format": ".1f"}}, "x": {"field": "lo", "type": "quantitative", "stack": null, "title": "Acceptability", "scale": {"domain": [3.065, 6.022], "nice": false, "zero": false}, "axis": {"values": [3.5, 4, 4.5, 5, 5.5, 6], "format": ".1f"}}, "x2": {"field": "hi"}, "detail": {"field": "id"},
          "color": {"field": "k", "type": "nominal", "scale": {"domain": ["a","b","c","d","e","f","g","h"], "range": ["#595959","#7b7b7b","#a3a3a3","#c0c0c0","#ffbfbf","#ff8080","#ff0000","#cc0000"]}}}},
        {"transform": [{"filter": "datum.o == 'v' && datum.z == 1"}], "mark": {"type": "area", "orient": "vertical", "interpolate": "monotone", "clip": true, "opacity": 1},
         "encoding": {"x": {"field": "x", "type": "quantitative", "title": "Acceptability", "scale": {"domain": [3.065, 6.022], "nice": false, "zero": false}, "axis": {"values": [3.5, 4, 4.5, 5, 5.5, 6], "format": ".1f"}}, "y": {"field": "lo", "type": "quantitative", "stack": null, "title": "Relatedness", "scale": {"domain": [2, 4.81], "nice": false, "zero": false}, "axis": {"values": [2, 2.5, 3, 3.5, 4, 4.5], "format": ".1f"}}, "y2": {"field": "hi"}, "detail": {"field": "id"},
          "color": {"field": "k", "type": "nominal", "scale": {"domain": ["a","b","c","d","e","f","g","h"], "range": ["#595959","#7b7b7b","#a3a3a3","#c0c0c0","#ffbfbf","#ff8080","#ff0000","#cc0000"]}}}},
        {"transform": [{"filter": "datum.o == 'h' && datum.z == 2"}], "mark": {"type": "area", "orient": "horizontal", "interpolate": "monotone", "clip": true, "opacity": 1},
         "encoding": {"y": {"field": "y", "type": "quantitative", "title": "Relatedness", "scale": {"domain": [2, 4.81], "nice": false, "zero": false}, "axis": {"values": [2, 2.5, 3, 3.5, 4, 4.5], "format": ".1f"}}, "x": {"field": "lo", "type": "quantitative", "stack": null, "title": "Acceptability", "scale": {"domain": [3.065, 6.022], "nice": false, "zero": false}, "axis": {"values": [3.5, 4, 4.5, 5, 5.5, 6], "format": ".1f"}}, "x2": {"field": "hi"}, "detail": {"field": "id"},
          "color": {"field": "k", "type": "nominal", "scale": {"domain": ["a","b","c","d","e","f","g","h"], "range": ["#595959","#7b7b7b","#a3a3a3","#c0c0c0","#ffbfbf","#ff8080","#ff0000","#cc0000"]}}}},
        {"transform": [{"filter": "datum.o == 'v' && datum.z == 2"}], "mark": {"type": "area", "orient": "vertical", "interpolate": "monotone", "clip": true, "opacity": 1},
         "encoding": {"x": {"field": "x", "type": "quantitative", "title": "Acceptability", "scale": {"domain": [3.065, 6.022], "nice": false, "zero": false}, "axis": {"values": [3.5, 4, 4.5, 5, 5.5, 6], "format": ".1f"}}, "y": {"field": "lo", "type": "quantitative", "stack": null, "title": "Relatedness", "scale": {"domain": [2, 4.81], "nice": false, "zero": false}, "axis": {"values": [2, 2.5, 3, 3.5, 4, 4.5], "format": ".1f"}}, "y2": {"field": "hi"}, "detail": {"field": "id"},
          "color": {"field": "k", "type": "nominal", "scale": {"domain": ["a","b","c","d","e","f","g","h"], "range": ["#595959","#7b7b7b","#a3a3a3","#c0c0c0","#ffbfbf","#ff8080","#ff0000","#cc0000"]}}}},
        {"transform": [{"filter": "datum.o == 'h' && datum.z == 3"}], "mark": {"type": "area", "orient": "horizontal", "interpolate": "monotone", "clip": true, "opacity": 1},
         "encoding": {"y": {"field": "y", "type": "quantitative", "title": "Relatedness", "scale": {"domain": [2, 4.81], "nice": false, "zero": false}, "axis": {"values": [2, 2.5, 3, 3.5, 4, 4.5], "format": ".1f"}}, "x": {"field": "lo", "type": "quantitative", "stack": null, "title": "Acceptability", "scale": {"domain": [3.065, 6.022], "nice": false, "zero": false}, "axis": {"values": [3.5, 4, 4.5, 5, 5.5, 6], "format": ".1f"}}, "x2": {"field": "hi"}, "detail": {"field": "id"},
          "color": {"field": "k", "type": "nominal", "scale": {"domain": ["a","b","c","d","e","f","g","h"], "range": ["#595959","#7b7b7b","#a3a3a3","#c0c0c0","#ffbfbf","#ff8080","#ff0000","#cc0000"]}}}},
        {"transform": [{"filter": "datum.o == 'pt'"}], "mark": {"type": "point", "filled": true, "shape": "diamond", "size": 25, "opacity": 1, "clip": true},
         "encoding": {"x": {"field": "x", "type": "quantitative", "title": "Acceptability", "scale": {"domain": [3.065, 6.022], "nice": false, "zero": false}, "axis": {"values": [3.5, 4, 4.5, 5, 5.5, 6], "format": ".1f"}}, "y": {"field": "y", "type": "quantitative", "title": "Relatedness", "scale": {"domain": [2, 4.81], "nice": false, "zero": false}, "axis": {"values": [2, 2.5, 3, 3.5, 4, 4.5], "format": ".1f"}},
          "color": {"field": "k", "type": "nominal", "scale": {"domain": ["a","b","c","d","e","f","g","h"], "range": ["#595959","#7b7b7b","#a3a3a3","#c0c0c0","#ffbfbf","#ff8080","#ff0000","#cc0000"]}}}}
      ]
    },
    {
      "title": "Anode \u2013 Cathode",
      "width": 320, "height": 258,
      "transform": [{"filter": "datum.p == 3"}],
      "layer": [
        {"transform": [{"filter": "datum.o == 'r'"}], "mark": {"type": "rect", "clip": true, "opacity": 1},
         "encoding": {"x": {"field": "x", "type": "quantitative", "title": "Acceptability", "scale": {"domain": [3.065, 6.022], "nice": false, "zero": false}, "axis": {"values": [3.5, 4, 4.5, 5, 5.5, 6], "format": ".1f"}}, "x2": {"field": "x2"},
          "y": {"field": "y", "type": "quantitative", "title": "Relatedness", "scale": {"domain": [2, 4.81], "nice": false, "zero": false}, "axis": {"values": [2, 2.5, 3, 3.5, 4, 4.5], "format": ".1f"}}, "y2": {"field": "y2"},
          "color": {"field": "k", "type": "nominal", "scale": {"domain": ["a","b","c","d","e","f","g","h"], "range": ["#595959","#7b7b7b","#a3a3a3","#c0c0c0","#ffbfbf","#ff8080","#ff0000","#cc0000"]}, "legend": {"title": null, "symbolType": "square", "labelExpr": "datum.value=='a'?'\u200b\u00a0\u00a0\u00a0\u00a0\u00a0\u00a0\u00a0\u00a0\u00a0\u00a0\u00a0<\u00a0\u00a0\u00a0\u00a0\u00a0-0.15\u00a0\u00a0\u200b':datum.value=='b'?'\u200b-0.15\u00a0\u00a0\u2013\u00a0\u00a0\u00a0\u00a0\u00a0-0.10\u00a0\u00a0\u200b':datum.value=='c'?'\u200b-0.10\u00a0\u00a0\u2013\u00a0\u00a0\u00a0\u00a0\u00a0-0.05\u00a0\u00a0\u200b':datum.value=='d'?'\u200b-0.05\u00a0\u00a0\u2013\u00a0\u00a0\u00a0\u00a0\u00a0\u00a00.00\u00a0\u00a0\u200b':datum.value=='e'?'\u200b\u00a00.00\u00a0\u00a0\u2013\u00a0\u00a0\u00a0\u00a0\u00a0\u00a00.05\u00a0\u00a0\u200b':datum.value=='f'?'\u200b\u00a00.05\u00a0\u00a0\u2013\u00a0\u00a0\u00a0\u00a0\u00a0\u00a00.10\u00a0\u00a0\u200b':datum.value=='g'?'\u200b\u00a00.10\u00a0\u00a0\u2013\u00a0\u00a0\u00a0\u00a0\u00a0\u00a00.15\u00a0\u00a0\u200b':'\u200b\u00a0\u00a0\u00a0\u00a0\u00a0\u00a0\u00a0\u00a0\u00a0\u00a0\u00a0>\u00a0\u00a0\u00a0\u00a0\u00a0\u00a00.15\u00a0\u00a0\u200b'"}}}},
        {"transform": [{"filter": "datum.o == 'h' && datum.z == 1"}], "mark": {"type": "area", "orient": "horizontal", "interpolate": "monotone", "clip": true, "opacity": 1},
         "encoding": {"y": {"field": "y", "type": "quantitative", "title": "Relatedness", "scale": {"domain": [2, 4.81], "nice": false, "zero": false}, "axis": {"values": [2, 2.5, 3, 3.5, 4, 4.5], "format": ".1f"}}, "x": {"field": "lo", "type": "quantitative", "stack": null, "title": "Acceptability", "scale": {"domain": [3.065, 6.022], "nice": false, "zero": false}, "axis": {"values": [3.5, 4, 4.5, 5, 5.5, 6], "format": ".1f"}}, "x2": {"field": "hi"}, "detail": {"field": "id"},
          "color": {"field": "k", "type": "nominal", "scale": {"domain": ["a","b","c","d","e","f","g","h"], "range": ["#595959","#7b7b7b","#a3a3a3","#c0c0c0","#ffbfbf","#ff8080","#ff0000","#cc0000"]}}}},
        {"transform": [{"filter": "datum.o == 'v' && datum.z == 1"}], "mark": {"type": "area", "orient": "vertical", "interpolate": "monotone", "clip": true, "opacity": 1},
         "encoding": {"x": {"field": "x", "type": "quantitative", "title": "Acceptability", "scale": {"domain": [3.065, 6.022], "nice": false, "zero": false}, "axis": {"values": [3.5, 4, 4.5, 5, 5.5, 6], "format": ".1f"}}, "y": {"field": "lo", "type": "quantitative", "stack": null, "title": "Relatedness", "scale": {"domain": [2, 4.81], "nice": false, "zero": false}, "axis": {"values": [2, 2.5, 3, 3.5, 4, 4.5], "format": ".1f"}}, "y2": {"field": "hi"}, "detail": {"field": "id"},
          "color": {"field": "k", "type": "nominal", "scale": {"domain": ["a","b","c","d","e","f","g","h"], "range": ["#595959","#7b7b7b","#a3a3a3","#c0c0c0","#ffbfbf","#ff8080","#ff0000","#cc0000"]}}}},
        {"transform": [{"filter": "datum.o == 'h' && datum.z == 2"}], "mark": {"type": "area", "orient": "horizontal", "interpolate": "monotone", "clip": true, "opacity": 1},
         "encoding": {"y": {"field": "y", "type": "quantitative", "title": "Relatedness", "scale": {"domain": [2, 4.81], "nice": false, "zero": false}, "axis": {"values": [2, 2.5, 3, 3.5, 4, 4.5], "format": ".1f"}}, "x": {"field": "lo", "type": "quantitative", "stack": null, "title": "Acceptability", "scale": {"domain": [3.065, 6.022], "nice": false, "zero": false}, "axis": {"values": [3.5, 4, 4.5, 5, 5.5, 6], "format": ".1f"}}, "x2": {"field": "hi"}, "detail": {"field": "id"},
          "color": {"field": "k", "type": "nominal", "scale": {"domain": ["a","b","c","d","e","f","g","h"], "range": ["#595959","#7b7b7b","#a3a3a3","#c0c0c0","#ffbfbf","#ff8080","#ff0000","#cc0000"]}}}},
        {"transform": [{"filter": "datum.o == 'v' && datum.z == 2"}], "mark": {"type": "area", "orient": "vertical", "interpolate": "monotone", "clip": true, "opacity": 1},
         "encoding": {"x": {"field": "x", "type": "quantitative", "title": "Acceptability", "scale": {"domain": [3.065, 6.022], "nice": false, "zero": false}, "axis": {"values": [3.5, 4, 4.5, 5, 5.5, 6], "format": ".1f"}}, "y": {"field": "lo", "type": "quantitative", "stack": null, "title": "Relatedness", "scale": {"domain": [2, 4.81], "nice": false, "zero": false}, "axis": {"values": [2, 2.5, 3, 3.5, 4, 4.5], "format": ".1f"}}, "y2": {"field": "hi"}, "detail": {"field": "id"},
          "color": {"field": "k", "type": "nominal", "scale": {"domain": ["a","b","c","d","e","f","g","h"], "range": ["#595959","#7b7b7b","#a3a3a3","#c0c0c0","#ffbfbf","#ff8080","#ff0000","#cc0000"]}}}},
        {"transform": [{"filter": "datum.o == 'h' && datum.z == 3"}], "mark": {"type": "area", "orient": "horizontal", "interpolate": "monotone", "clip": true, "opacity": 1},
         "encoding": {"y": {"field": "y", "type": "quantitative", "title": "Relatedness", "scale": {"domain": [2, 4.81], "nice": false, "zero": false}, "axis": {"values": [2, 2.5, 3, 3.5, 4, 4.5], "format": ".1f"}}, "x": {"field": "lo", "type": "quantitative", "stack": null, "title": "Acceptability", "scale": {"domain": [3.065, 6.022], "nice": false, "zero": false}, "axis": {"values": [3.5, 4, 4.5, 5, 5.5, 6], "format": ".1f"}}, "x2": {"field": "hi"}, "detail": {"field": "id"},
          "color": {"field": "k", "type": "nominal", "scale": {"domain": ["a","b","c","d","e","f","g","h"], "range": ["#595959","#7b7b7b","#a3a3a3","#c0c0c0","#ffbfbf","#ff8080","#ff0000","#cc0000"]}}}},
        {"transform": [{"filter": "datum.o == 'pt'"}], "mark": {"type": "point", "filled": true, "shape": "diamond", "size": 25, "opacity": 1, "clip": true},
         "encoding": {"x": {"field": "x", "type": "quantitative", "title": "Acceptability", "scale": {"domain": [3.065, 6.022], "nice": false, "zero": false}, "axis": {"values": [3.5, 4, 4.5, 5, 5.5, 6], "format": ".1f"}}, "y": {"field": "y", "type": "quantitative", "title": "Relatedness", "scale": {"domain": [2, 4.81], "nice": false, "zero": false}, "axis": {"values": [2, 2.5, 3, 3.5, 4, 4.5], "format": ".1f"}},
          "color": {"field": "k", "type": "nominal", "scale": {"domain": ["a","b","c","d","e","f","g","h"], "range": ["#595959","#7b7b7b","#a3a3a3","#c0c0c0","#ffbfbf","#ff8080","#ff0000","#cc0000"]}}}}
      ]
    }
  ]
}
